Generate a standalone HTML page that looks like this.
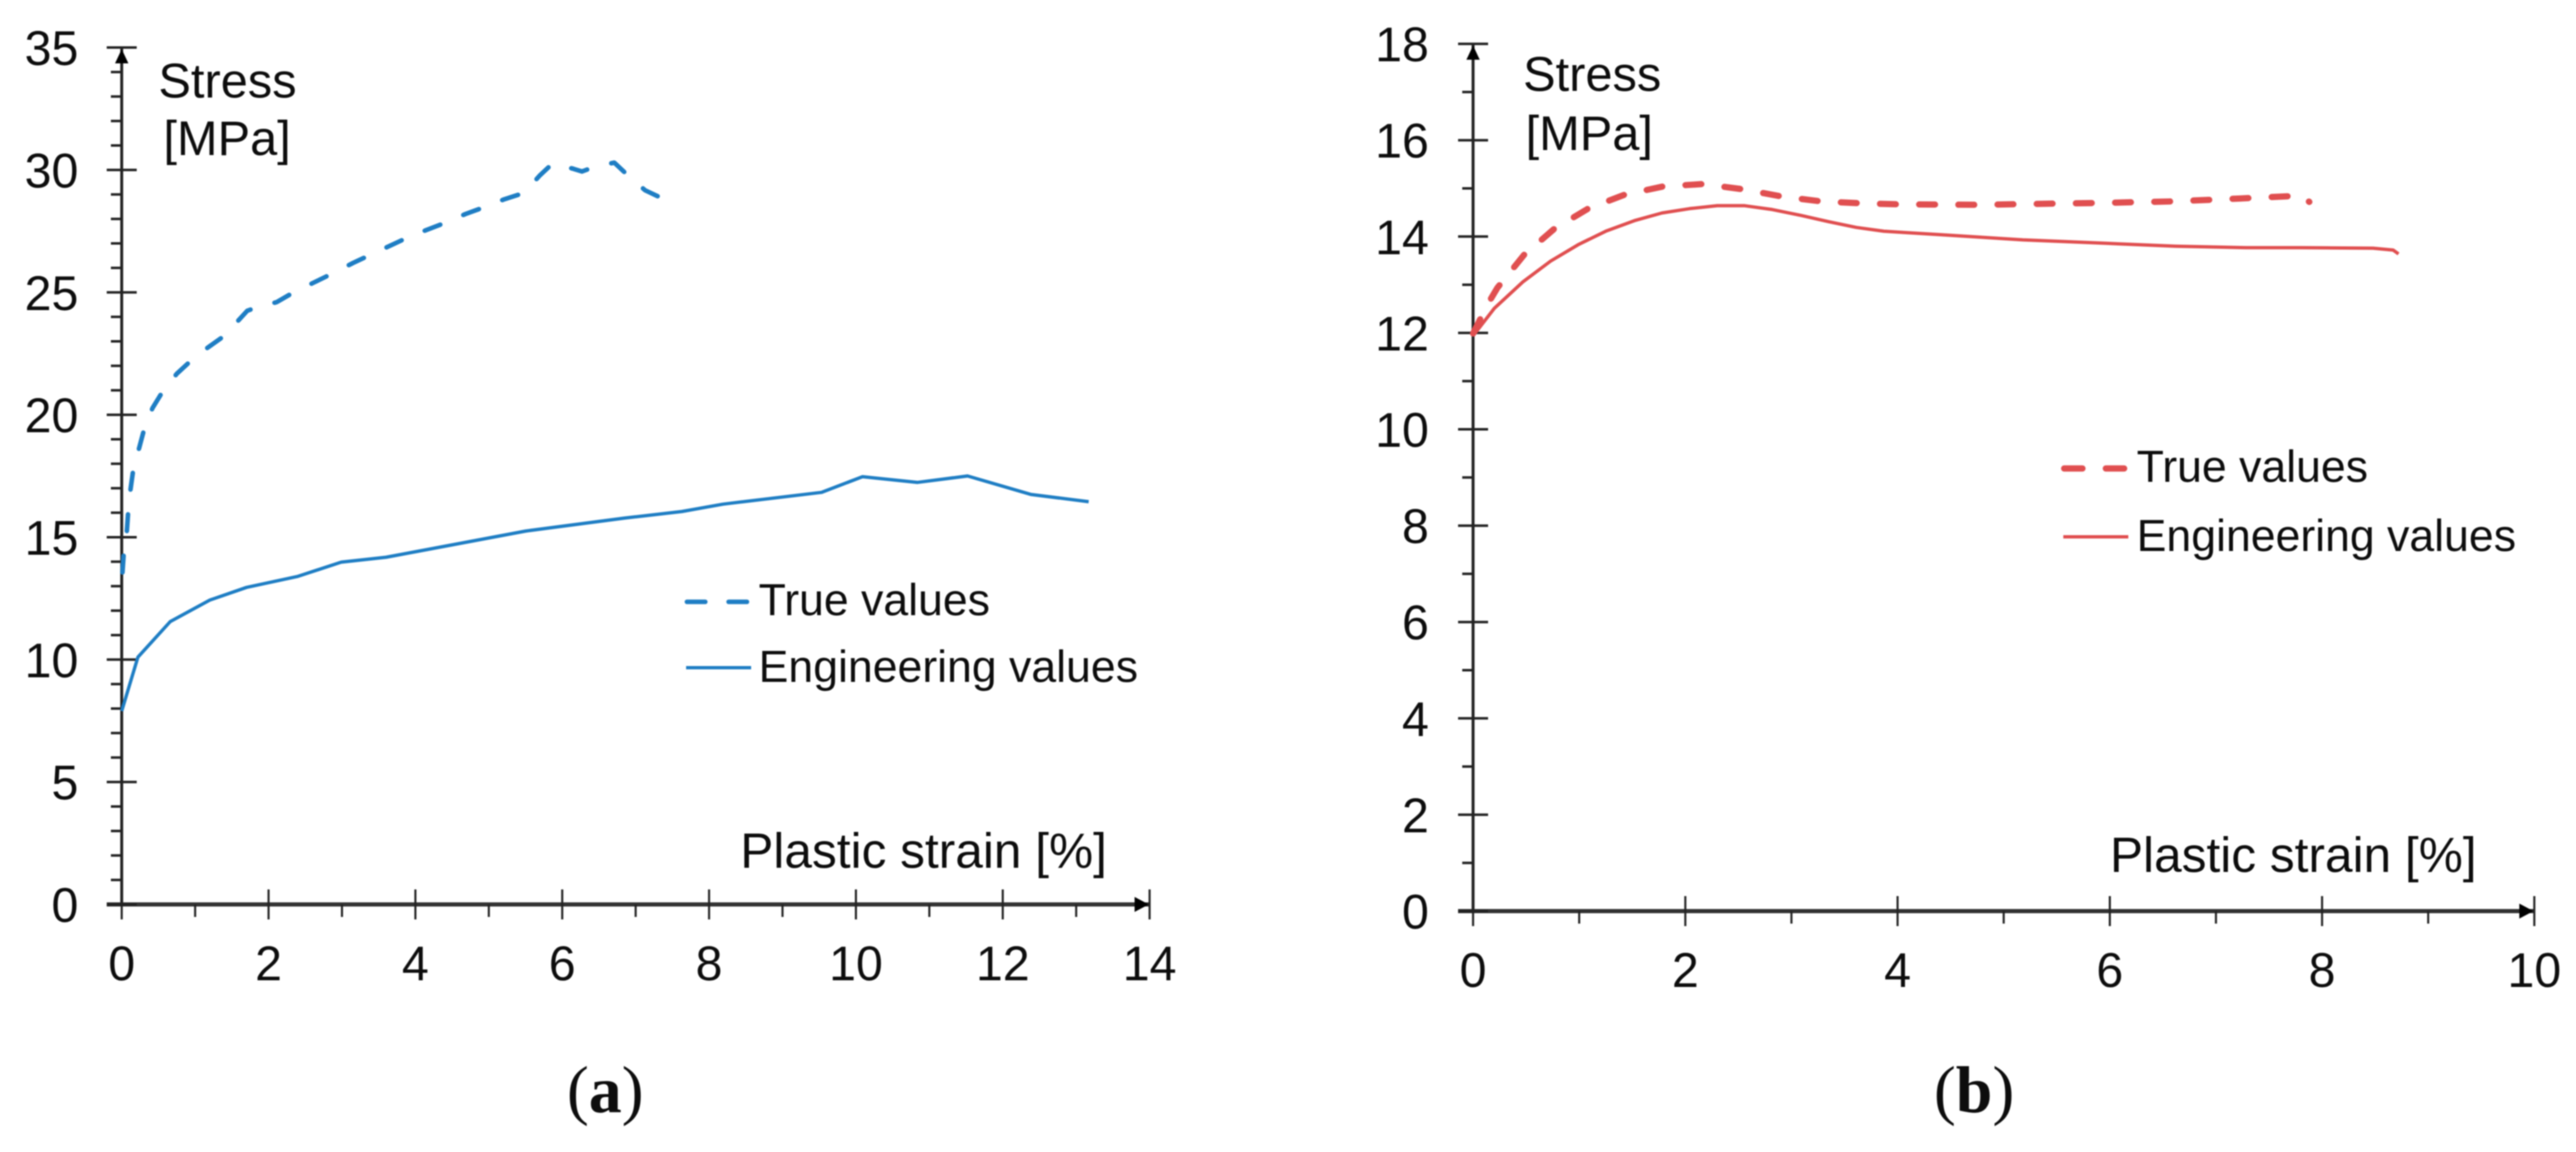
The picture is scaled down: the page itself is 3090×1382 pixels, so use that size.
<!DOCTYPE html>
<html lang="en">
<head>
<meta charset="utf-8">
<title>Stress vs plastic strain</title>
<style>
html,body{margin:0;padding:0;background:#fff;width:3090px;height:1382px;overflow:hidden}
svg{display:block;filter:blur(.7px)}
text{font-family:"Liberation Sans",Arial,sans-serif;fill:#0d0d0d}
</style>
</head>
<body>
<svg id="figure" xmlns="http://www.w3.org/2000/svg" width="3090" height="1382" viewBox="0 0 3090 1382"></svg>
<script>
// Panel (a) data
const aXTicks = [0, 2, 4, 6, 8, 10, 12, 14];
const aXMinor = [1, 3, 5, 7, 9, 11, 13];
const aYTicks = [0, 5, 10, 15, 20, 25, 30, 35];
const aYMinor = [1,2,3,4,6,7,8,9,11,12,13,14,16,17,18,19,21,22,23,24,26,27,28,29,31,32,33,34];
const aTrueStrain = [0.01, 0.03, 0.07, 0.09, 0.12, 0.16, 0.24, 0.31, 0.42, 0.56, 0.75, 0.95, 1.18, 1.4, 1.6, 1.71, 1.82, 2.11, 2.34, 2.82, 3.15, 3.83, 4.15, 4.42, 4.68, 4.95, 5.21, 5.48, 5.69, 5.87, 6.16, 6.27, 6.44, 6.71, 6.9, 7.13, 7.37];
const aTrueStress = [13.56, 14.41, 15.26, 16.11, 16.96, 17.82, 18.67, 19.46, 20.28, 20.96, 21.68, 22.23, 22.76, 23.23, 23.89, 24.25, 24.37, 24.6, 25.0, 25.7, 26.2, 27.15, 27.55, 27.86, 28.2, 28.49, 28.8, 29.06, 29.76, 30.27, 30.04, 29.94, 30.13, 30.3, 29.76, 29.17, 28.83];
const aEngStrain = [0, 0.22, 0.66, 1.2, 1.7, 2.4, 2.99, 3.6, 5.5, 6.85, 7.63, 8.19, 9.53, 10.09, 10.84, 11.52, 12.38, 13.17];
const aEngStress = [7.9, 10.1, 11.55, 12.43, 12.95, 13.4, 13.98, 14.18, 15.25, 15.78, 16.05, 16.35, 16.83, 17.47, 17.24, 17.5, 16.75, 16.45];

// Panel (b) data
const bXTicks = [0, 2, 4, 6, 8, 10];
const bXMinor = [1, 3, 5, 7, 9];
const bYTicks = [0, 2, 4, 6, 8, 10, 12, 14, 16, 18];
const bYMinor = [1, 3, 5, 7, 9, 11, 13, 15, 17];
const bTrueStrain = [0, 0.136, 0.23, 0.48, 0.764, 1.084, 1.43, 1.79, 2.165, 2.55, 2.91, 3.28, 3.66, 4.0, 4.75, 5.97, 6.6, 7.23, 7.8, 7.88];
const bTrueStress = [11.99, 12.59, 12.94, 13.62, 14.16, 14.58, 14.87, 15.04, 15.09, 14.98, 14.83, 14.73, 14.69, 14.67, 14.66, 14.70, 14.73, 14.79, 14.85, 14.72];
const bEngStrain = [0, 0.2, 0.47, 0.73, 0.99, 1.25, 1.52, 1.78, 2.04, 2.3, 2.56, 2.82, 3.09, 3.35, 3.61, 3.87, 4.4, 5.18, 5.97, 6.62, 7.28, 7.8, 8.48, 8.67, 8.72];
const bEngStress = [11.94, 12.51, 13.06, 13.49, 13.83, 14.11, 14.33, 14.49, 14.58, 14.64, 14.64, 14.56, 14.44, 14.31, 14.19, 14.11, 14.04, 13.93, 13.86, 13.8, 13.77, 13.77, 13.76, 13.72, 13.64];

const NS = 'http://www.w3.org/2000/svg';
const fig = document.getElementById('figure');

function mk(parent, tag, attrs, txt) {
  const e = document.createElementNS(NS, tag);
  for (const k in attrs) e.setAttribute(k, attrs[k]);
  if (txt !== undefined) e.textContent = txt;
  parent.appendChild(e);
  return e;
}

function label(parent, name, x, y, size, anchor, str) {
  const t = mk(parent, 'text', {x: x, y: y, 'font-size': size, 'text-anchor': anchor}, str);
  
  
  return t;
}

function seriesPath(parent, name, xs, ys, fx, fy, color, width, dash) {
  const d = xs.map((v, i) => (i ? 'L' : 'M') + fx(v).toFixed(1) + ' ' + fy(ys[i]).toFixed(1)).join(' ');
  const p = mk(parent, 'path', {d: d, fill: 'none', stroke: color, 'stroke-width': width, 'stroke-linejoin': 'round'});
  if (dash) { p.setAttribute('stroke-dasharray', dash); p.setAttribute('stroke-linecap', 'round'); }
  
  
}

function panel(o) {
  const g = mk(fig, 'g', {});
  
  
  const fx = v => o.x0 + v * o.xu;
  const fy = v => o.y0 - v * o.yu;
  const xEnd = fx(o.xMax), yTop = fy(o.yMax);

  const yAxis = mk(g, 'line', {x1: o.x0, x2: o.x0, y1: yTop, y2: o.y0, stroke: '#222', 'stroke-width': 3.5});
  
  
  const xAxis = mk(g, 'line', {x1: o.x0 - 18, x2: xEnd, y1: o.y0, y2: o.y0, stroke: '#333', 'stroke-width': 5});
  
  

  const yArrow = mk(g, 'polygon', {points: [o.x0, yTop + 2, o.x0 + 8, yTop + 19, o.x0 - 8, yTop + 19].join(' '), fill: '#000'});
  
  
  const xArrow = mk(g, 'polygon', {points: [xEnd - 1, o.y0, xEnd - 18, o.y0 - 9, xEnd - 18, o.y0 + 9].join(' '), fill: '#000'});
  
  

  o.yMinor.forEach(v => {
    const t = mk(g, 'line', {x1: o.x0 - 13, x2: o.x0, y1: fy(v), y2: fy(v), stroke: '#222', 'stroke-width': 3});
    
    
  });
  o.yTicks.forEach(v => {
    const t = mk(g, 'line', {x1: o.x0 - 18, x2: o.x0 + 18, y1: fy(v), y2: fy(v), stroke: '#222', 'stroke-width': 3});
    
    
    label(g, 'y-tick-label', o.yLabelX, fy(v) + 21, 58, 'end', String(v));
  });
  o.xMinor.forEach(v => {
    const t = mk(g, 'line', {x1: fx(v), x2: fx(v), y1: o.y0, y2: o.y0 + 15, stroke: '#222', 'stroke-width': 2.5});
    
    
  });
  o.xTicks.forEach(v => {
    const t = mk(g, 'line', {x1: fx(v), x2: fx(v), y1: o.y0 - 18, y2: o.y0 + 18, stroke: '#222', 'stroke-width': 2.5});
    
    
    label(g, 'x-tick-label', fx(v), o.xLabelY, 58, 'middle', String(v));
  });

  seriesPath(g, 'true-values-line', o.trueX, o.trueY, fx, fy, o.color, o.dashW, o.dash);
  seriesPath(g, 'engineering-values-line', o.engX, o.engY, fx, fy, o.color, 4);

  label(g, 'y-axis-title-stress', o.stressX, o.stressY, 58.5, 'start', 'Stress');
  label(g, 'y-axis-title-unit', o.mpaX, o.mpaY, 58.5, 'start', '[MPa]');
  label(g, 'x-axis-title', o.strainX, o.strainY, 59.5, 'start', 'Plastic strain [%]');

  const l1 = mk(g, 'line', {x1: o.lx + 3, x2: o.lx + 75, y1: o.ly1, y2: o.ly1, stroke: o.color, 'stroke-width': o.dashW, 'stroke-dasharray': '22 28', 'stroke-linecap': 'round'});
  
  
  const l2 = mk(g, 'line', {x1: o.lx + 2, x2: o.lx + 80, y1: o.ly2, y2: o.ly2, stroke: o.color, 'stroke-width': 4});
  
  
  label(g, 'legend-true-label', o.ltx, o.ly1 + 16, 53.5, 'start', 'True values');
  label(g, 'legend-engineering-label', o.ltx, o.ly2 + 17, 53.5, 'start', 'Engineering values');

  const cap = mk(g, 'text', {x: o.capX, y: 1334, 'font-size': 79, 'text-anchor': 'middle', style: 'font-family:"Liberation Serif",serif'});
  
  
  mk(cap, 'tspan', {}, '(');
  mk(cap, 'tspan', {'font-weight': 'bold'}, o.capLetter);
  mk(cap, 'tspan', {}, ')');
}

panel({
  id: 'panel-a', x0: 146, xu: 88.07, y0: 1085, yu: 29.37, xMax: 14, yMax: 35,
  xTicks: aXTicks, xMinor: aXMinor, yTicks: aYTicks, yMinor: aYMinor,
  trueX: aTrueStrain, trueY: aTrueStress, engX: aEngStrain, engY: aEngStress,
  color: '#1f7ec4', dashW: 5.5, dash: '20 30',
  yLabelX: 94, xLabelY: 1176,
  stressX: 190, stressY: 117, mpaX: 196, mpaY: 186, strainX: 888, strainY: 1041,
  lx: 821, ly1: 722, ly2: 801, ltx: 910, capX: 726, capLetter: 'a'
});
panel({
  id: 'panel-b', x0: 1767, xu: 127.3, y0: 1093, yu: 57.8, xMax: 10, yMax: 18,
  xTicks: bXTicks, xMinor: bXMinor, yTicks: bYTicks, yMinor: bYMinor,
  trueX: bTrueStrain, trueY: bTrueStress, engX: bEngStrain, engY: bEngStress,
  color: '#e04f50', dashW: 7.5, dash: '19 28',
  yLabelX: 1714, xLabelY: 1184,
  stressX: 1827, stressY: 109, mpaX: 1830, mpaY: 180, strainX: 2531, strainY: 1046,
  lx: 2473, ly1: 562, ly2: 644, ltx: 2563, capX: 2368, capLetter: 'b'
});
</script>
</body>
</html>
